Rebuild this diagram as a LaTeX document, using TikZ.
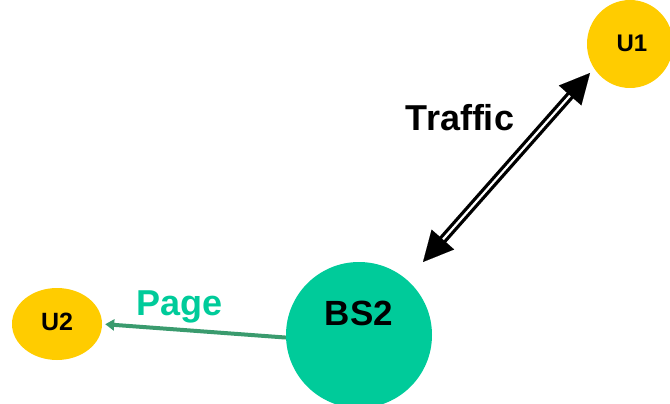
\documentclass[tikz,border=0pt]{standalone}
\usepackage{fontspec}
\setmainfont{Liberation Sans}
\usetikzlibrary{shapes.geometric,arrows.meta,calc}
\definecolor{uyellow}{HTML}{FFCC00}
\definecolor{bsgreen}{HTML}{00CB9A}
\definecolor{pagegreen}{HTML}{3A9B6E}
\tikzset{
  userell/.style={ellipse, fill=uyellow, inner sep=0pt, font=\bfseries\fontsize{24}{28}\selectfont},
  bsnode/.style={circle, fill=bsgreen, inner sep=0pt, minimum size=146pt},
  lbl/.style={anchor=base, font=\bfseries\fontsize{36}{40}\selectfont},
  trafficshaft/.style={draw=black, line width=3.3pt, double=white, double distance=2.2pt, shorten <=26pt, shorten >=26pt},
  traffichead/.style={line width=0.1pt, -{Triangle[length=30pt,width=30pt]}},
  pagearrow/.style={draw=pagegreen, line width=4pt, -{Triangle[length=9pt,width=11pt]}, shorten >=3pt}
}
\begin{document}
\begin{tikzpicture}[x=1pt,y=-1pt]
\useasboundingbox (0,0) rectangle (670,404);
\begin{scope}
\clip (0,0) rectangle (670,404);
\node[userell, minimum width=86pt, minimum height=88pt] (u1) at (630,44) {};
\node[userell, minimum width=90pt, minimum height=72pt] (u2) at (57,324) {};
\node[bsnode] (bs2) at (359,335) {};
\end{scope}
\node[anchor=base, font=\bfseries\fontsize{24}{28}\selectfont] (u1lbl) at (632,52) {U1};
\node[anchor=base, font=\bfseries\fontsize{25}{28}\selectfont] (u2lbl) at (57,330) {U2};
\node[lbl, font=\bfseries\fontsize{35}{40}\selectfont] (bs2lbl) at (359,325) {BS2};
\node[lbl] (trafficlbl) at (460,130) {Traffic};
\node[lbl, text=bsgreen] (pagelbl) at (179.5,315) {Page};
\coordinate (t1) at (423,262);
\coordinate (t2) at (590,73);
\draw[trafficshaft] (t1) -- (t2);
\draw[traffichead] ($(t1)!30pt!(t2)$) -- (t1);
\draw[traffichead] ($(t2)!30pt!(t1)$) -- (t2);
\draw[pagearrow] (bs2.182) -- (u2.east);
\end{tikzpicture}
\end{document}
